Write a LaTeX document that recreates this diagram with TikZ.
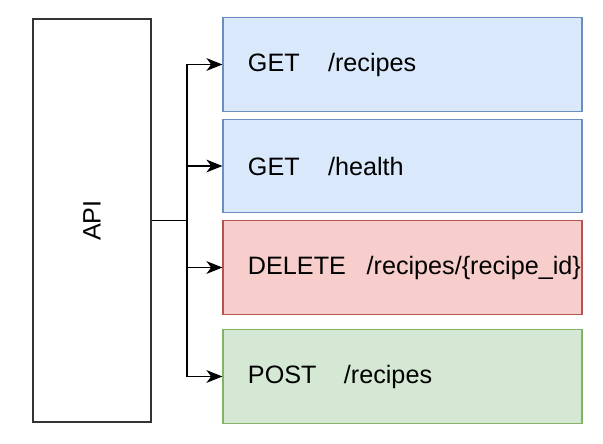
\documentclass[tikz,border=0pt]{standalone}
\usepackage{fontspec}
\setmainfont{Liberation Sans}
\usetikzlibrary{arrows.meta}
\definecolor{getfill}{HTML}{DAE8FC}
\definecolor{getline}{HTML}{6C8EBF}
\definecolor{delfill}{HTML}{F8CECC}
\definecolor{delline}{HTML}{B85450}
\definecolor{postfill}{HTML}{D5E8D4}
\definecolor{postline}{HTML}{82B366}
\begin{document}
\begin{tikzpicture}[x=0.03cm, y=-0.03cm, every node/.style={font=\fontsize{21.5}{25}\selectfont},
  route/.style={draw,line width=0.9pt,minimum width=10.77cm,minimum height=2.8cm,
    text width=9.27cm,inner xsep=0.75cm,align=left},
  link/.style={-{Stealth[length=0.48cm,width=0.38cm,inset=0.14cm]},line width=1.2pt}]
\useasboundingbox (0,0) rectangle (603,444);
\node[draw=black!80,line width=1.1pt,fill=white,minimum width=3.54cm,minimum height=12.09cm] (api) at (92,220.5) {};
\node[rotate=90] at (api.center) {API};
\node[route,fill=getfill,draw=getline] (r1) at (402.5,64.5) {\mbox{GET\hspace{0.85cm}/recipes}};
\node[route,fill=getfill,draw=getline] (r2) at (402.5,166) {\mbox{GET\hspace{0.85cm}/health}};
\node[route,fill=delfill,draw=delline] (r3) at (402.5,267.5) {\mbox{DELETE\hspace{0.62cm}/recipes/\{recipe\_id\}}};
\node[route,fill=postfill,draw=postline] (r4) at (402.5,376.5) {\mbox{POST\hspace{0.82cm}/recipes}};
\coordinate (fork) at (187,220.5);
\draw[line width=1.2pt] (api.east) -- (fork);
\foreach \r in {r1,r2,r3,r4}
  \draw[link] (fork) |- (\r.west);
\end{tikzpicture}
\end{document}
